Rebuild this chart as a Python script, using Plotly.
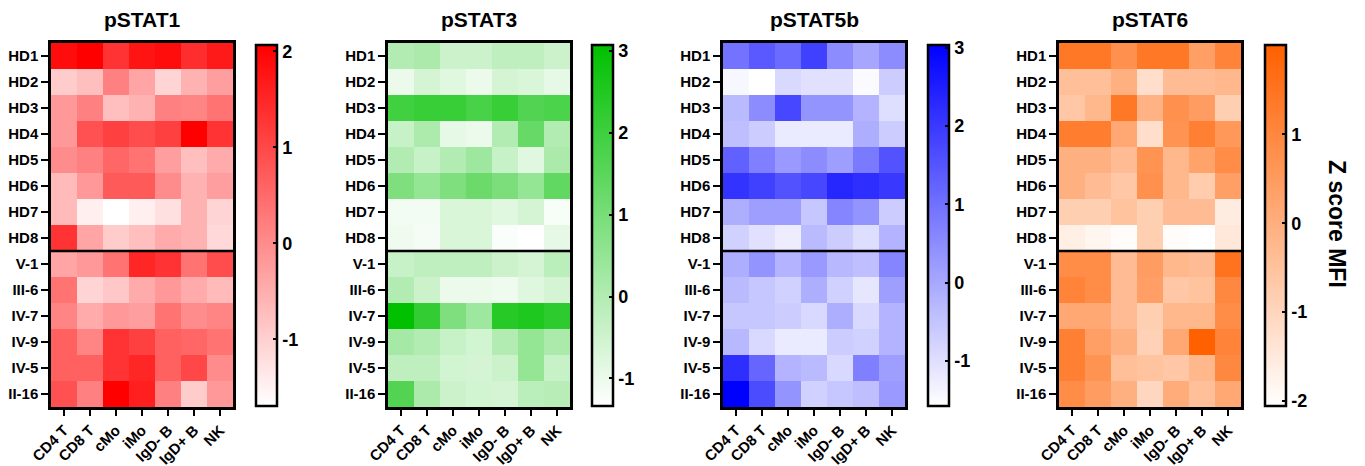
import plotly.graph_objects as go

# The page body has an 8px margin, so the figure is sized to the visible area
# and all pixel positions below are given relative to the figure.
W, H = 1357, 458

cells = ["CD4 T", "CD8 T", "cMo", "iMo", "IgD- B", "IgD+ B", "NK"]
samples = ["HD1", "HD2", "HD3", "HD4", "HD5", "HD6", "HD7", "HD8",
           "V-1", "III-6", "IV-7", "IV-9", "IV-5", "II-16"]
panel_titles = ["pSTAT1", "pSTAT3", "pSTAT5b", "pSTAT6"]

pstat1 = [
    [1.88, 2.07, 1.32, 1.77, 1.88, 1.39, 1.69],
    [-0.94, -0.75, 0.19, -0.37, -1.05, -0.56, -0.26],
    [-0.19, 0.19, -0.75, -0.56, 0.19, 0.11, 0.38],
    [-0.19, 0.87, 1.13, 0.94, 1.13, 2.07, 1.32],
    [0.0, 0.19, 0.57, 0.38, -0.26, -0.75, -0.45],
    [-0.67, -0.19, 0.75, 0.75, 0.0, -0.56, -0.26],
    [-0.67, -1.46, -1.69, -1.46, -1.24, -0.56, -1.05],
    [1.32, -0.37, -0.94, -0.75, -0.45, -0.56, -1.13],
    [-0.37, -0.19, 0.38, 1.51, 1.32, 0.38, 0.94],
    [0.38, -1.05, -0.86, -0.45, -0.19, -0.45, -0.67],
    [0.11, -0.45, -0.19, -0.26, 0.38, 0.0, 0.11],
    [0.64, 0.11, 1.32, 1.13, 0.64, 0.57, 0.38],
    [0.64, 0.64, 1.32, 1.51, 0.64, 1.02, 0.0],
    [0.87, 0.19, 2.07, 1.62, 0.19, -0.94, -0.19],
]
pstat3 = [
    [0.0, 0.13, -0.45, -0.45, -0.23, -0.23, -0.45],
    [-0.98, -0.58, -0.80, -0.98, -0.58, -0.67, -0.89],
    [1.98, 2.11, 2.11, 1.85, 2.11, 1.67, 1.76],
    [-0.36, 0.08, -0.89, -0.98, 0.0, 1.32, 0.0],
    [0.0, -0.36, 0.0, 0.35, -0.36, -0.80, 0.13],
    [0.88, 0.52, 0.88, 1.23, 0.96, 0.52, 1.40],
    [-1.11, -1.11, -0.67, -0.67, -0.80, -0.58, -1.20],
    [-1.07, -1.15, -0.67, -0.67, -1.24, -1.33, -0.89],
    [-0.36, -0.23, -0.23, -0.23, -0.45, -0.58, -0.14],
    [0.0, -0.45, -0.98, -0.98, -1.07, -0.76, -0.58],
    [3.08, 2.20, 0.88, 0.35, 2.42, 2.55, 2.29],
    [0.21, 0.0, -0.36, -0.54, 0.0, 0.52, 0.13],
    [-0.23, -0.23, -0.54, -0.58, -0.45, 0.52, -0.36],
    [1.67, 0.13, -0.45, -0.54, -0.58, -0.14, -0.10],
]
pstat5b = [
    [0.97, 1.43, 1.10, 1.89, 0.50, 0.04, 0.50],
    [-1.43, -1.57, -0.88, -1.02, -1.02, -1.48, -0.65],
    [-0.33, 0.50, 1.75, 0.37, 0.37, -0.19, -0.97],
    [-0.42, -0.65, -1.20, -1.20, -1.20, -0.10, -0.65],
    [1.29, 0.74, 0.27, 0.50, 0.18, 0.83, 1.56],
    [2.12, 1.89, 1.56, 1.75, 2.35, 2.21, 2.03],
    [-0.10, 0.18, 0.18, -0.56, 0.64, 0.37, -0.65],
    [-0.74, -1.02, -1.25, -0.33, -0.65, -0.97, -0.19],
    [-0.10, 0.37, -0.19, 0.27, -0.28, -0.42, 0.64],
    [-0.33, -0.56, -0.74, -0.10, -0.74, -1.11, 0.18],
    [-0.56, -0.56, -0.65, -0.88, -0.10, -0.88, -0.19],
    [-0.28, -0.88, -1.20, -1.20, -0.65, -0.74, -0.19],
    [2.21, 1.20, -0.19, -0.33, -0.88, 0.74, 0.18],
    [3.04, 1.66, 0.37, -0.74, -0.56, -0.42, 0.27],
]
pstat6 = [
    [1.40, 1.40, 0.79, 1.40, 1.40, 0.39, 1.12],
    [-0.43, -0.43, -0.02, -1.24, -0.34, -0.34, -0.22],
    [-0.63, -0.22, 1.40, -0.10, 0.79, 0.47, -0.83],
    [1.28, 1.28, 0.18, -1.24, 0.71, 1.20, 0.59],
    [-0.02, -0.02, -0.34, 0.71, -0.22, 0.30, 0.87],
    [-0.02, -0.34, -0.63, 0.79, -0.22, -0.75, 0.39],
    [-0.83, -0.83, -0.51, -0.83, -0.34, -0.34, -1.56],
    [-1.64, -1.81, -1.97, -0.83, -1.97, -2.05, -1.44],
    [0.87, 0.87, -0.34, 0.47, -0.22, -0.34, 1.52],
    [1.12, 0.87, -0.34, 0.39, -0.63, -0.51, 0.99],
    [0.18, 0.18, -0.34, -0.83, -0.22, -0.22, 0.87],
    [1.20, 0.39, -0.02, -0.91, 0.18, 2.01, 1.12],
    [1.20, 0.71, -0.43, -0.51, -0.63, -0.22, 0.99],
    [0.87, 0.47, -0.02, -1.04, 0.06, -0.43, 0.18],
]

panel_data = [pstat1, pstat3, pstat5b, pstat6]
z_ranges = [(-1.69, 2.07), (-1.33, 3.08), (-1.57, 3.04), (-2.05, 2.01)]
cbar_ticks = [[-1, 0, 1, 2], [-1, 0, 1, 2, 3], [-1, 0, 1, 2, 3], [-2, -1, 0, 1]]
colors = ["#FF0000", "#00C000", "#0000FF", "#FF6000"]

# layout (pixels, figure coordinates)
heat_left = [43, 380, 715, 1051]
heat_w = 182
cbar_left = [248, 584, 920, 1257]
top_px, bot_px = 35, 399

FONT = "Arial, Liberation Sans, sans-serif"

fig = go.Figure()
y0 = (H - bot_px) / H
y1 = (H - top_px) / H

for i in range(4):
    xa = "x" if i == 0 else f"x{i+1}"
    ya = "y" if i == 0 else f"y{i+1}"
    zmin, zmax = z_ranges[i]
    fig.add_trace(go.Heatmap(
        z=panel_data[i], x=cells, y=samples,
        xaxis=xa, yaxis=ya,
        zmin=zmin, zmax=zmax,
        colorscale=[[0, "#FFFFFF"], [1, colors[i]]],
        colorbar=dict(
            x=cbar_left[i] / W, xanchor="left", xpad=0, ypad=0,
            y=(y0 + y1) / 2, yanchor="middle",
            len=bot_px - top_px - 3, lenmode="pixels",
            thickness=21, thicknessmode="pixels",
            outlinewidth=2.5, outlinecolor="black",
            tickvals=cbar_ticks[i], ticktext=[str(t) for t in cbar_ticks[i]],
            ticks="inside", ticklen=5, tickwidth=2, tickcolor="black",
            tickfont=dict(family=FONT, size=18, color="black", weight="bold"),
        ),
        hoverinfo="skip",
    ))
    dom = [heat_left[i] / W, (heat_left[i] + heat_w) / W]
    fig.layout[f"xaxis{'' if i == 0 else i+1}"] = dict(
        domain=dom, anchor=ya, showline=True, mirror=True, automargin=False,
        linewidth=2.5, linecolor="black", ticks="outside", ticklen=6,
        tickwidth=2, tickcolor="black", tickangle=-45,
        tickfont=dict(family=FONT, size=15, color="black", weight="bold"),
        showgrid=False, zeroline=False, fixedrange=True,
    )
    fig.layout[f"yaxis{'' if i == 0 else i+1}"] = dict(
        domain=[y0, y1], anchor=xa, showline=True, mirror=True, automargin=False,
        linewidth=2.5, linecolor="black", ticks="outside", ticklen=7,
        tickwidth=2, tickcolor="black", autorange="reversed",
        tickfont=dict(family=FONT, size=15, color="black", weight="bold"),
        showgrid=False, zeroline=False, fixedrange=True,
    )
    # separator between healthy donors and patients
    fig.add_shape(type="line", xref=f"{xa} domain", yref=ya,
                  x0=0, x1=1, y0=7.5, y1=7.5,
                  line=dict(color="black", width=2.5))
    fig.add_annotation(text=panel_titles[i], xref="paper", yref="paper",
                       x=(heat_left[i] + heat_w / 2) / W, y=(H - 11) / H,
                       xanchor="center", yanchor="middle", showarrow=False,
                       font=dict(family=FONT, size=21, color="black", weight="bold"))

fig.add_annotation(text="Z score MFI", xref="paper", yref="paper",
                   x=1329 / W, y=(H - 216) / H, textangle=90,
                   xanchor="center", yanchor="middle", showarrow=False,
                   font=dict(family=FONT, size=23, color="black", weight="bold"))

fig.update_layout(
    width=W, height=H, margin=dict(l=0, r=0, t=0, b=0, autoexpand=False),
    paper_bgcolor="white", plot_bgcolor="white", showlegend=False,
)

fig.write_html("out.html")
